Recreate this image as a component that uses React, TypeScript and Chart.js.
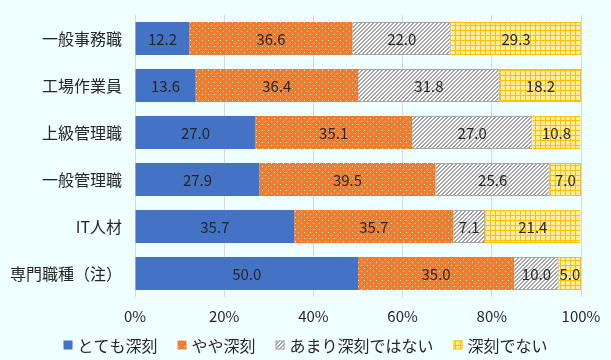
import React, { useEffect, useRef } from "react";
import { Chart, registerables } from "chart.js";

Chart.register(...registerables);

const categories = ["一般事務職", "工場作業員", "上級管理職", "一般管理職", "IT人材", "専門職種（注）"];
const seriesNames = ["とても深刻", "やや深刻", "あまり深刻ではない", "深刻でない"];
const verySerious = [12.2, 13.6, 27.0, 27.9, 35.7, 50.0];
const somewhatSerious = [36.6, 36.4, 35.1, 39.5, 35.7, 35.0];
const notVerySerious = [22.0, 31.8, 27.0, 25.6, 7.1, 10.0];
const notSerious = [29.3, 18.2, 10.8, 7.0, 21.4, 5.0];
const xTicks = [0, 20, 40, 60, 80, 100];

const FONT = "'Noto Sans CJK JP', sans-serif";

function makePattern(kind: string): CanvasPattern | string {
  const c = document.createElement("canvas");
  const ctx = c.getContext("2d");
  if (!ctx) return "#999";
  if (kind === "dots") {
    c.width = 6; c.height = 6;
    ctx.fillStyle = "#ED7D31";
    ctx.fillRect(0, 0, 6, 6);
    ctx.fillStyle = "#FFE8D8";
    ctx.fillRect(1, 1, 1, 1);
    ctx.fillRect(4, 4, 1, 1);
  } else if (kind === "diag") {
    c.width = 4; c.height = 4;
    ctx.fillStyle = "#FFFFFF";
    ctx.fillRect(0, 0, 4, 4);
    ctx.fillStyle = "#A5A5A5";
    for (let i = 0; i < 4; i++) {
      ctx.fillRect((3 - i + 4) % 4, i, 1, 1);
      ctx.fillRect((4 - i + 4) % 4, i, 1, 1);
    }
  } else {
    c.width = 5; c.height = 5;
    ctx.fillStyle = "#FFEDA8";
    ctx.fillRect(0, 0, 5, 5);
    ctx.fillStyle = "#FFC000";
    ctx.fillRect(0, 0, 5, 1);
    ctx.fillRect(0, 0, 1, 5);
  }
  const p = ctx.createPattern(c, "repeat");
  return p || "#999";
}

const labelPlugin = {
  id: "barLabels",
  afterDatasetsDraw(chart: any) {
    const ctx = chart.ctx;
    ctx.save();
    ctx.font = "15px " + FONT;
    ctx.fillStyle = "#262626";
    ctx.textAlign = "center";
    ctx.textBaseline = "middle";
    chart.data.datasets.forEach((ds: any, di: number) => {
      const meta = chart.getDatasetMeta(di);
      meta.data.forEach((bar: any, i: number) => {
        const v = ds.data[i];
        const p = bar.getProps(["x", "y", "base"], true);
        const cx = (p.x + p.base) / 2;
        ctx.fillText(v.toFixed(1), cx, p.y + 1);
      });
    });
    ctx.restore();
  },
};

const legendPlugin = {
  id: "customLegend",
  afterDraw(chart: any) {
    const ctx = chart.ctx;
    const box = 9;
    const boxGap = 5;
    const itemGap = 20;
    const y = 345;
    ctx.save();
    ctx.font = "16px " + FONT;
    ctx.textBaseline = "middle";
    ctx.textAlign = "left";
    const items = chart.data.datasets.map((ds: any) => ({
      text: ds.label,
      fill: ds.backgroundColor,
      stroke: ds.borderWidth ? ds.borderColor : null,
      w: ctx.measureText(ds.label).width,
    }));
    let total = 0;
    items.forEach((it: any, i: number) => {
      total += box + boxGap + it.w + (i < items.length - 1 ? itemGap : 0);
    });
    let x = (chart.width - total) / 2;
    items.forEach((it: any) => {
      ctx.fillStyle = it.fill;
      ctx.fillRect(x, y - box / 2, box, box);
      if (it.stroke) {
        ctx.strokeStyle = it.stroke;
        ctx.lineWidth = 1;
        ctx.strokeRect(x + 0.5, y - box / 2 + 0.5, box - 1, box - 1);
      }
      ctx.fillStyle = "#262626";
      ctx.fillText(it.text, x + box + boxGap, y + 1);
      x += box + boxGap + it.w + itemGap;
    });
    ctx.restore();
  },
};

export default function App() {
  const ref = useRef<HTMLCanvasElement>(null);
  useEffect(() => {
    if (!ref.current) return;
    const chart = new Chart(ref.current, {
      type: "bar",
      data: {
        labels: categories,
        datasets: [
          { label: seriesNames[0], data: verySerious, backgroundColor: "#4472C4", borderWidth: 0 },
          { label: seriesNames[1], data: somewhatSerious, backgroundColor: makePattern("dots"), borderWidth: 0 },
          { label: seriesNames[2], data: notVerySerious, backgroundColor: makePattern("diag"), borderColor: "#A5A5A5", borderWidth: 1 },
          { label: seriesNames[3], data: notSerious, backgroundColor: makePattern("grid"), borderColor: "#FFC000", borderWidth: 1 },
        ] as any,
      },
      options: {
        indexAxis: "y",
        animation: false,
        responsive: false,
        maintainAspectRatio: false,
        layout: { padding: { left: 0, right: 30, top: 15, bottom: 35 } },
        datasets: { bar: { categoryPercentage: 0.7, barPercentage: 1 } } as any,
        scales: {
          x: {
            stacked: true,
            min: 0,
            max: 100,
            afterBuildTicks: (axis: any) => {
              axis.ticks = xTicks.map((v) => ({ value: v }));
            },
            afterFit: (axis: any) => {
              axis.height = 28;
              axis.paddingLeft = 0;
              axis.paddingRight = 0;
            },
            ticks: {
              callback: (v: any) => v + "%",
              color: "#262626",
              font: { family: FONT, size: 15 },
              padding: 10,
            },
            grid: { color: "#D9D9D9", drawTicks: false },
            border: { display: false },
          },
          y: {
            stacked: true,
            afterFit: (axis: any) => {
              axis.width = 135;
              axis.paddingTop = 0;
              axis.paddingBottom = 0;
            },
            ticks: { color: "#262626", font: { family: FONT, size: 16 }, padding: 13 },
            grid: { display: false, drawTicks: false },
            border: { display: false },
          },
        },
        plugins: {
          legend: { display: false },
          tooltip: { enabled: false },
        },
      } as any,
      plugins: [labelPlugin, legendPlugin],
    });
    return () => chart.destroy();
  }, []);
  return (
    <div style={{ position: "fixed", left: 0, top: 0, width: 611, height: 360, background: "#F0FFFF" }}>
      <canvas ref={ref} width={611} height={360} style={{ display: "block" }} />
    </div>
  );
}
